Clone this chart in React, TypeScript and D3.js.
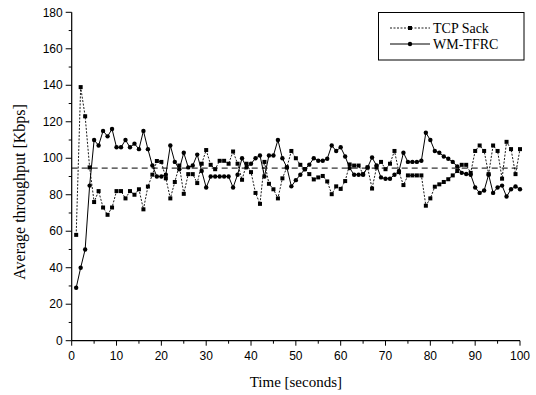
import React from "react";
import * as d3 from "d3";

const timeSeconds: number[] = d3.range(1, 101);

const tcpSack: number[] = [
  58, 139, 123, 95, 76, 82, 73, 69, 73, 82,
  82, 78, 82, 80, 83, 72, 84.5, 91, 98.5, 98,
  89, 78, 87, 96, 80.5, 91.3, 91.3, 86.4, 97, 104.5,
  96.4, 94, 98.6, 98.6, 97, 103.7, 97, 88.2, 97, 92.4,
  81, 75, 98, 86, 83, 78, 89, 95, 104, 100,
  96.4, 94, 91.3, 88.4, 89.5, 90.3, 87.3, 80.3, 84.6, 83.2,
  87.5, 96.6, 96, 96, 91.3, 95, 83.4, 95, 98, 94,
  97, 104, 92.4, 85.3, 90.6, 90.6, 90.6, 90.6, 74, 78,
  84.4, 85.7, 87, 88.5, 90.6, 93, 96.4, 96.4, 92, 104,
  107, 104, 91.3, 107, 104, 88.8, 109, 105, 91.3, 105,
];

const wmTfrc: number[] = [
  29, 40, 50, 85, 110, 107, 115, 112, 116, 106,
  106, 110, 106, 108, 105, 115, 105, 96, 90, 90,
  91, 107, 98, 94, 103, 95, 96, 102, 93, 84,
  90, 90, 90, 90, 90, 84, 91, 100, 95, 97,
  100, 101.5, 90, 101.5, 101.5, 110, 100, 95, 84.6, 88,
  91, 94, 96.5, 100, 98.6, 98.6, 99.7, 107, 104, 106,
  101, 94.6, 91, 91, 91, 95, 100.4, 96, 89.5, 88.8,
  88.8, 91, 93, 103, 98, 98, 98, 98.6, 114, 110,
  104, 103, 101, 99.7, 98, 95.5, 92, 91.4, 91, 84,
  81, 82.3, 91, 81, 84, 85, 79, 83, 84.5, 83,
];

const averageLine = 94.6;
const xTicks: number[] = [0, 10, 20, 30, 40, 50, 60, 70, 80, 90, 100];
const yTicks: number[] = [0, 20, 40, 60, 80, 100, 120, 140, 160, 180];
const seriesNames: string[] = ["TCP Sack", "WM-TFRC"];

const W = 536;
const H = 395;
const m = { left: 71.7, right: 520, top: 12.3, bottom: 340.7 };

export default function App() {
  const x = d3.scaleLinear().domain([0, 100]).range([m.left, m.right]);
  const y = d3.scaleLinear().domain([0, 180]).range([m.bottom, m.top]);
  const line = d3
    .line<[number, number]>()
    .x((d) => x(d[0]))
    .y((d) => y(d[1]));
  const tcpPts: [number, number][] = timeSeconds.map((t, i) => [t, tcpSack[i]]);
  const wmPts: [number, number][] = timeSeconds.map((t, i) => [t, wmTfrc[i]]);
  const xMinor = d3.range(5, 100, 10);
  const yMinor = d3.range(10, 180, 20);
  const serif = "'Liberation Serif', 'Times New Roman', serif";
  const sans = "'Liberation Sans', Arial, sans-serif";

  return (
    <svg
      width={W}
      height={H}
      style={{ position: "absolute", left: 0, top: 0, background: "#fff" }}
    >
      <rect x={0} y={0} width={W} height={H} fill="#fff" />
      <line
        x1={x(0)}
        x2={x(100)}
        y1={y(averageLine)}
        y2={y(averageLine)}
        stroke="#000"
        strokeWidth={1}
        strokeDasharray="6,4"
      />
      <path d={line(tcpPts) || ""} fill="none" stroke="#000" strokeWidth={0.9} strokeDasharray="2,1.5" />
      <path d={line(wmPts) || ""} fill="none" stroke="#000" strokeWidth={1} />
      {tcpPts.map((d, i) => (
        <rect key={"s" + i} x={x(d[0]) - 2} y={y(d[1]) - 2} width={4} height={4} fill="#000" />
      ))}
      {wmPts.map((d, i) => (
        <circle key={"c" + i} cx={x(d[0])} cy={y(d[1])} r={2.2} fill="#000" />
      ))}
      <line x1={m.left} x2={m.left} y1={m.top} y2={m.bottom} stroke="#000" strokeWidth={1.2} />
      <line x1={m.left} x2={m.right} y1={m.bottom} y2={m.bottom} stroke="#000" strokeWidth={1.2} />
      {yTicks.map((t) => (
        <g key={"yt" + t}>
          <line x1={m.left - 6} x2={m.left} y1={y(t)} y2={y(t)} stroke="#000" strokeWidth={1} />
          <text x={m.left - 9} y={y(t)} dy="0.35em" textAnchor="end" fontFamily={sans} fontSize={12}>
            {t}
          </text>
        </g>
      ))}
      {yMinor.map((t) => (
        <line key={"ym" + t} x1={m.left - 3} x2={m.left} y1={y(t)} y2={y(t)} stroke="#000" strokeWidth={1} />
      ))}
      {xTicks.map((t) => (
        <g key={"xt" + t}>
          <line x1={x(t)} x2={x(t)} y1={m.bottom} y2={m.bottom + 5} stroke="#000" strokeWidth={1} />
          <text x={x(t)} y={m.bottom + 19} textAnchor="middle" fontFamily={sans} fontSize={12}>
            {t}
          </text>
        </g>
      ))}
      {xMinor.map((t) => (
        <line key={"xm" + t} x1={x(t)} x2={x(t)} y1={m.bottom} y2={m.bottom + 3} stroke="#000" strokeWidth={1} />
      ))}
      <text x={(m.left + m.right) / 2} y={387} textAnchor="middle" fontFamily={serif} fontSize={15}>
        Time [seconds]
      </text>
      <text
        transform={`translate(25, 192) rotate(-90)`}
        textAnchor="middle"
        fontFamily={serif}
        fontSize={16}
      >
        Average throughput [Kbps]
      </text>
      <rect x={378.5} y={12.5} width={145.5} height={47.5} fill="#fff" stroke="#000" strokeWidth={1} />
      <line x1={390} x2={430} y1={28} y2={28} stroke="#000" strokeWidth={0.9} strokeDasharray="2,1.5" />
      <rect x={410 - 2} y={28 - 2} width={4} height={4} fill="#000" />
      <text x={433} y={28} dy="0.35em" fontFamily={serif} fontSize={14}>
        {seriesNames[0]}
      </text>
      <line x1={390} x2={430} y1={44} y2={44} stroke="#000" strokeWidth={1} />
      <circle cx={410} cy={44} r={2.2} fill="#000" />
      <text x={433} y={44} dy="0.35em" fontFamily={serif} fontSize={14}>
        {seriesNames[1]}
      </text>
    </svg>
  );
}
